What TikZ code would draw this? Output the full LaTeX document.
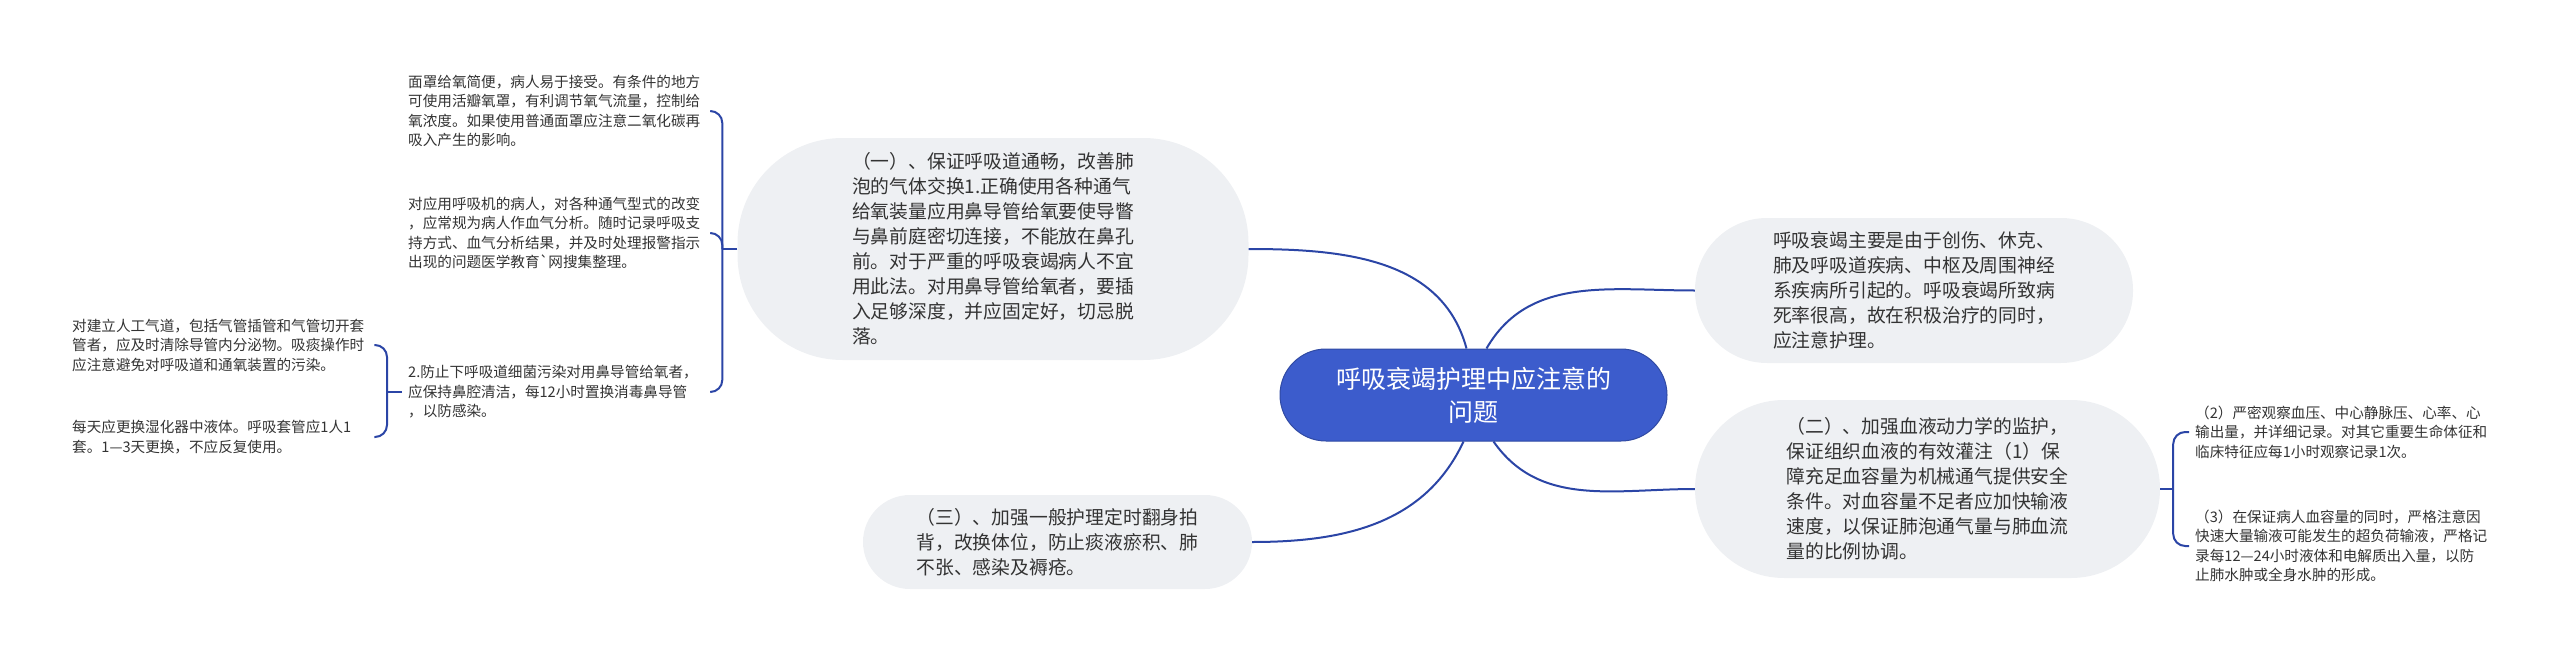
\documentclass[tikz,border=0pt]{standalone}
\usepackage{fontspec}
\setmainfont{Noto Sans CJK SC}
\usetikzlibrary{calc}
\definecolor{linkblue}{HTML}{2B45A6}
\definecolor{rootblue}{HTML}{3C5CCC}
\definecolor{bubblegray}{HTML}{EEF0F3}
\definecolor{textgray}{HTML}{333333}
\tikzstyle{link}=[linkblue,line width=2pt]
\tikzstyle{bracket}=[link,rounded corners=12pt]
\tikzstyle{rootnode}=[fill=rootblue,draw=rootblue!80!black,line width=1pt,text=white,align=center,font=\fontsize{25pt}{33pt}\selectfont]
\tikzstyle{bubble}=[fill=bubblegray,text=textgray,align=left,inner sep=0pt,font=\fontsize{18.8pt}{25pt}\selectfont]
\tikzstyle{leaf}=[text=textgray,align=left,text width=296pt,inner sep=6pt,anchor=west,font=\fontsize{14.6pt}{19.5pt}\selectfont]
\tikzset{pill/.style n args={3}{minimum width=#1pt,minimum height=#2pt,rounded corners=#3pt}}

\begin{document}
\begin{tikzpicture}[x=1pt,y=1pt]
\useasboundingbox (0,0) rectangle (2560,-653);
% root
\node[rootnode,pill={387}{92}{46}] (root) at (1473.5,-395) {呼吸衰竭护理中应注意的\\问题};
% main topics
\node[bubble,pill={511}{222}{105}] (care1) at (993,-249) {（一）、保证呼吸道通畅，改善肺\\泡的气体交换1.正确使用各种通气\\给氧装量应用鼻导管给氧要使导瞥\\与鼻前庭密切连接，不能放在鼻孔\\前。对于严重的呼吸衰竭病人不宜\\用此法。对用鼻导管给氧者，要插\\入足够深度，并应固定好，切忌脱\\落。};
\node[bubble,pill={438}{145}{72}] (intro) at (1914,-290.5) {呼吸衰竭主要是由于创伤、休克、\\肺及呼吸道疾病、中枢及周围神经\\系疾病所引起的。呼吸衰竭所致病\\死率很高，故在积极治疗的同时，\\应注意护理。};
\node[bubble,pill={465}{178}{89}] (care2) at (1927.5,-489) {（二）、加强血液动力学的监护，\\保证组织血液的有效灌注（1）保\\障充足血容量为机械通气提供安全\\条件。对血容量不足者应加快输液\\速度，以保证肺泡通气量与肺血流\\量的比例协调。};
\node[bubble,pill={389}{94}{47}] (care3) at (1057.5,-542) {（三）、加强一般护理定时翻身拍\\背，改换体位，防止痰液瘀积、肺\\不张、感染及褥疮。};
% leaves of care1
\node[leaf] (mask) at (402,-111) {面罩给氧简便，病人易于接受。有条件的地方\\可使用活瓣氧罩，有利调节氧气流量，控制给\\氧浓度。如果使用普通面罩应注意二氧化碳再\\吸入产生的影响。};
\node[leaf] (vent) at (402,-233) {对应用呼吸机的病人，对各种通气型式的改变\\，应常规为病人作血气分析。随时记录呼吸支\\持方式、血气分析结果，并及时处理报警指示\\出现的问题医学教育\textasciigrave{}网搜集整理。};
\node[leaf] (infect) at (402,-392) {2.防止下呼吸道细菌污染对用鼻导管给氧者，\\应保持鼻腔清洁，每12小时置换消毒鼻导管\\，以防感染。};
% leaves of infect
\node[leaf] (airway) at (66,-345) {对建立人工气道，包括气管插管和气管切开套\\管者，应及时清除导管内分泌物。吸痰操作时\\应注意避免对呼吸道和通氧装置的污染。};
\node[leaf] (humid) at (66,-437) {每天应更换湿化器中液体。呼吸套管应1人1\\套。1—3天更换，不应反复使用。};
% leaves of care2
\node[leaf] (pressure) at (2189,-432) {（2）严密观察血压、中心静脉压、心率、心\\输出量，并详细记录。对其它重要生命体征和\\临床特征应每1小时观察记录1次。};
\node[leaf] (fluid) at (2189,-546) {（3）在保证病人血容量的同时，严格注意因\\快速大量输液可能发生的超负荷输液，严格记\\录每12—24小时液体和电解质出入量，以防\\止肺水肿或全身水肿的形成。};
% root links
\draw[link] ([xshift=-7pt]root.north) to[out=105,in=0] (care1.east);
\draw[link] ([xshift=13pt]root.north) to[out=60,in=180] (intro.west);
\draw[link] ([xshift=20pt]root.south) to[out=-55,in=180] (care2.west);
\draw[link] ([xshift=-10pt]root.south) to[out=-115,in=0] (care3.east);
% brackets
\coordinate (care1tip) at ([xshift=-15pt]care1.west);
\draw[link] (care1.west) -- (care1tip);
\foreach \leafname in {mask,vent,infect}
  \draw[bracket] (care1tip) |- (\leafname.east);
\coordinate (infecttip) at ([xshift=-15pt]infect.west);
\draw[link] (infect.west) -- (infecttip);
\foreach \leafname in {airway,humid}
  \draw[bracket] (infecttip) |- (\leafname.east);
\coordinate (care2tip) at ([xshift=13pt]care2.east);
\draw[link] (care2.east) -- (care2tip);
\foreach \leafname in {pressure,fluid}
  \draw[bracket] (care2tip) |- (\leafname.west);
\end{tikzpicture}
\end{document}
